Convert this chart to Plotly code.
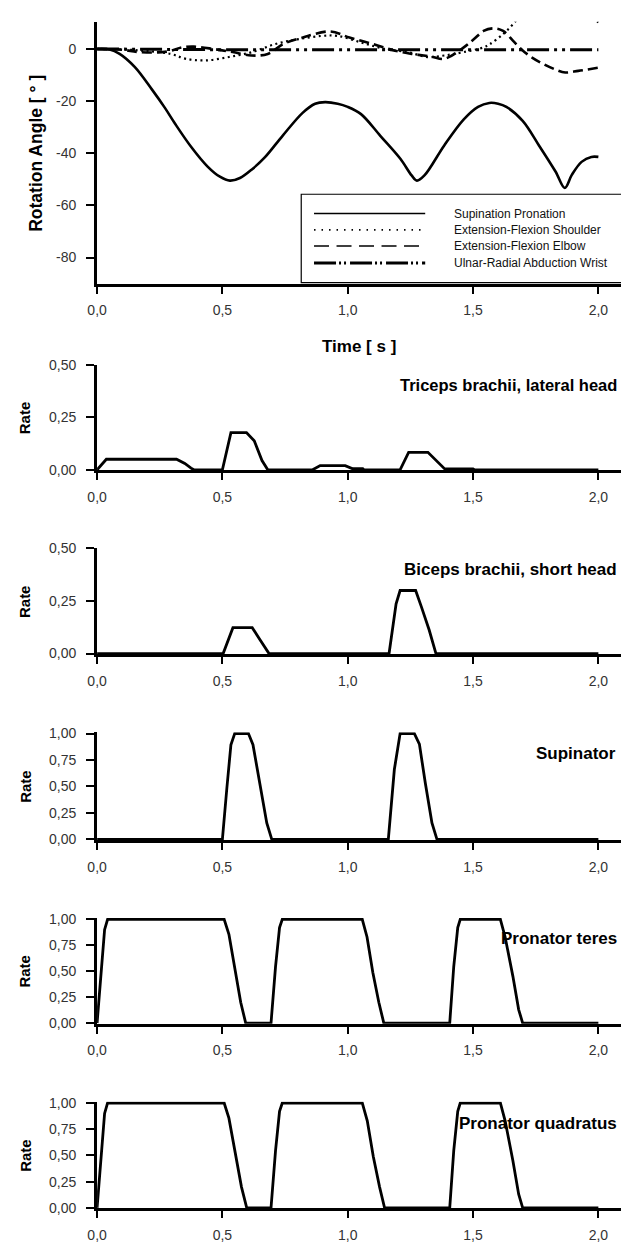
import plotly.graph_objects as go

W, H = 621, 1249

# ---------------- joint angles, top panel ----------------
t_sup = [0, 0.05, 0.09, 0.15, 0.22, 0.27, 0.31, 0.375, 0.44, 0.49, 0.53, 0.57, 0.62,
         0.67, 0.74, 0.82, 0.87, 0.91, 0.96, 1.0, 1.053, 1.13, 1.21, 1.255, 1.276,
         1.306, 1.385, 1.463, 1.52, 1.565, 1.60, 1.633, 1.698, 1.763, 1.829, 1.866,
         1.894, 1.933, 1.972, 2.0]
ang_sup = [0, -0.2, -1.9, -6.9, -15.7, -22.5, -28.5, -37.5, -45, -49, -50.5, -49.5, -46,
           -41.5, -33.3, -24.5, -21, -20.4, -21, -22.2, -25, -33.3, -42.1, -48.5, -50.5,
           -48.5, -37, -27, -22.2, -20.7, -21, -22.2, -27.6, -37, -47, -53.3,
           -48.3, -43.3, -41.4, -41.4]

t_sho = [0, 0.1, 0.2, 0.293, 0.355, 0.433, 0.526, 0.619, 0.712, 0.805, 0.898, 0.96,
         1.053, 1.147, 1.24, 1.318, 1.385, 1.463, 1.542, 1.568, 1.62, 1.659, 1.70,
         1.8, 1.9, 1.97, 2.0]
ang_sho = [0, -0.2, -0.8, -1.9, -3.8, -4.4, -3.1, -1.2, 1.9, 3.8, 5.0, 5.0,
           2.5, 0, -1.2, -3.1, -2.5, -1.2, 0.6, 1.9, 5.7, 9.4, 14,
           18, 15, 12, 10.2]

t_elb = [0, 0.1, 0.17, 0.28, 0.34, 0.386, 0.464, 0.541, 0.616, 0.681, 0.743, 0.821,
         0.93, 1.007, 1.1, 1.178, 1.255, 1.333, 1.385, 1.463, 1.504, 1.542, 1.583,
         1.62, 1.659, 1.698, 1.737, 1.777, 1.829, 1.868, 1.92, 2.0]
ang_elb = [0, -0.3, -1.2, -1.0, 0.6, 0.9, 0, -1.2, -2.5, -1.9, 1.9, 4.4,
           6.7, 4.4, 1.9, -0.4, -1.9, -2.9, -3.8, 0.6, 3.8, 6.9, 7.9,
           6.9, 3.2, -0.6, -3.4, -5.6, -7.9, -9.0, -8.4, -7.2]

t_wri = [0, 0.5, 1.0, 1.5, 2.0]
ang_wri = [0, -0.3, -0.3, -0.3, -0.3]

joint_names = ["Supination Pronation", "Extension-Flexion Shoulder",
               "Extension-Flexion Elbow", "Ulnar-Radial Abduction Wrist"]

# ---------------- muscle activation rates ----------------
t_tri = [0, 0.037, 0.317, 0.35, 0.375, 0.386, 0.5, 0.534, 0.596, 0.627, 0.658, 0.681,
         0.86, 0.89, 0.99, 1.02, 1.06, 1.065, 1.209, 1.243, 1.32, 1.387, 1.5, 1.505, 2.0]
r_tri = [0, 0.05, 0.05, 0.03, 0.008, 0, 0, 0.177, 0.177, 0.138, 0.044, 0,
         0, 0.02, 0.02, 0.005, 0.005, 0, 0, 0.083, 0.083, 0.004, 0.004, 0, 0]

t_bic = [0, 0.503, 0.542, 0.619, 0.65, 0.686, 1.165, 1.193, 1.209, 1.271, 1.294,
         1.325, 1.352, 2.0]
r_bic = [0, 0, 0.123, 0.123, 0.066, 0, 0, 0.237, 0.3, 0.3, 0.222, 0.112, 0, 0]

t_sun = [0, 0.5, 0.518, 0.534, 0.549, 0.604, 0.622, 0.65, 0.677, 0.697,
         1.162, 1.186, 1.209, 1.266, 1.286, 1.31, 1.336, 1.356, 2.0]
r_sun = [0, 0, 0.49, 0.895, 1, 1, 0.895, 0.525, 0.154, 0,
         0, 0.66, 1, 1, 0.9, 0.525, 0.154, 0, 0]

t_ter = [0, 0.03, 0.042, 0.507, 0.526, 0.549, 0.573, 0.593, 0.694, 0.712, 0.728, 0.739,
         1.058, 1.077, 1.1, 1.124, 1.144, 1.407, 1.423, 1.439, 1.449, 1.609, 1.628,
         1.659, 1.682, 1.698, 2.0]
r_ter = [0, 0.9, 1, 1, 0.855, 0.545, 0.2, 0, 0, 0.545, 0.92, 1,
         1, 0.83, 0.49, 0.2, 0, 0, 0.545, 0.92, 1, 1, 0.83,
         0.45, 0.13, 0, 0]

t_qua = [0, 0.03, 0.042, 0.507, 0.526, 0.551, 0.576, 0.597, 0.694, 0.712, 0.728, 0.739,
         1.058, 1.078, 1.102, 1.127, 1.147, 1.407, 1.423, 1.439, 1.449, 1.609, 1.628,
         1.659, 1.682, 1.698, 2.0]
r_qua = [0, 0.9, 1, 1, 0.855, 0.545, 0.2, 0, 0, 0.545, 0.92, 1,
         1, 0.83, 0.49, 0.2, 0, 0, 0.545, 0.92, 1, 1, 0.83,
         0.45, 0.13, 0, 0]

muscle_names = ["Triceps brachii, lateral head", "Biceps brachii, short head",
                "Supinator", "Pronator teres", "Pronator quadratus"]

# ---------------- ticks ----------------
x_ticks = [0, 0.5, 1.0, 1.5, 2.0]
angle_ticks = [0, -20, -40, -60, -80]
rate_ticks_half = [0, 0.25, 0.5]
rate_ticks_full = [0, 0.25, 0.5, 0.75, 1.0]


def comma(v, nd):
    return f"{v:.{nd}f}".replace(".", ",")


FONT = "Liberation Sans, Arial, sans-serif"
LEFT = 88.5              # left edge of every plotting area (px)
PX_PER_S = 254.75        # horizontal scale (px per second)


def fy(py):
    return 1 - py / H


def rate_range(top, bottom, zero_px, ref_px, ref_val):
    """Value range of a rate panel whose plotting area spans rows top..bottom."""
    unit = (zero_px - ref_px) / ref_val
    return [-(bottom - zero_px) / unit, (zero_px - top) / unit]


fig = go.Figure()

black = "#000000"
fig.add_trace(go.Scatter(x=t_sup, y=ang_sup, mode="lines", name=joint_names[0],
                         line=dict(color=black, width=2.6, shape="spline", smoothing=1.0)))
fig.add_trace(go.Scatter(x=t_sho, y=ang_sho, mode="lines", name=joint_names[1],
                         line=dict(color=black, width=2.2, dash="2px,3.5px",
                                   shape="spline", smoothing=1.0)))
fig.add_trace(go.Scatter(x=t_elb, y=ang_elb, mode="lines", name=joint_names[2],
                         line=dict(color=black, width=2.6, dash="10px,5px",
                                   shape="spline", smoothing=1.0)))
fig.add_trace(go.Scatter(x=t_wri, y=ang_wri, mode="lines", name=joint_names[3],
                         line=dict(color=black, width=3,
                                   dash="22px,5px,3px,5px,3px,5px")))

rates = [(t_tri, r_tri), (t_bic, r_bic), (t_sun, r_sun), (t_ter, r_ter), (t_qua, r_qua)]
for i, (tt, rr) in enumerate(rates):
    k = i + 2
    fig.add_trace(go.Scatter(x=tt, y=rr, mode="lines", name=muscle_names[i],
                             xaxis=f"x{k}", yaxis=f"y{k}",
                             line=dict(color=black, width=2.8)))

x_max = (W - LEFT) / PX_PER_S

# panel geometry: pixel rows of the plotting area and the value range shown
panels = [
    dict(top=14, bottom=279, rng=[-90, 10.4], ticks=angle_ticks,
         text=[f"{v:d}" for v in angle_ticks]),
    dict(top=361, bottom=468, rng=rate_range(361, 468, 467.4, 361, 0.5),
         ticks=rate_ticks_half, text=[comma(v, 2) for v in rate_ticks_half]),
    dict(top=547, bottom=654, rng=rate_range(547, 654, 653.4, 547, 0.5),
         ticks=rate_ticks_half, text=[comma(v, 2) for v in rate_ticks_half]),
    dict(top=733, bottom=842, rng=rate_range(733, 842, 841.4, 734.4, 1.0),
         ticks=rate_ticks_full, text=[comma(v, 2) for v in rate_ticks_full]),
    dict(top=921, bottom=1028, rng=rate_range(921, 1028, 1027.4, 922.4, 1.0),
         ticks=rate_ticks_full, text=[comma(v, 2) for v in rate_ticks_full]),
    dict(top=1107, bottom=1215, rng=rate_range(1107, 1215, 1214.4, 1108.3, 1.0),
         ticks=rate_ticks_full, text=[comma(v, 2) for v in rate_ticks_full]),
]

tick_font = dict(family=FONT, size=14, color="#333333")
layout_axes = {}
for i, p in enumerate(panels):
    k = "" if i == 0 else str(i + 1)
    layout_axes[f"xaxis{k}"] = dict(
        domain=[LEFT / W, 1], range=[0, x_max], anchor=f"y{k}",
        showgrid=False, zeroline=False, showline=True, linecolor="#000", linewidth=3,
        ticks="outside", ticklen=7, tickwidth=1.8, tickcolor="#000",
        tickvals=x_ticks, ticktext=[comma(v, 1) for v in x_ticks],
        tickfont=tick_font, ticklabelstandoff=5, fixedrange=True)
    layout_axes[f"yaxis{k}"] = dict(
        domain=[fy(p["bottom"]), fy(p["top"])], range=p["rng"], anchor=f"x{k}",
        showgrid=False, zeroline=False, showline=True, linecolor="#000", linewidth=3,
        ticks="outside", ticklen=8, tickwidth=1.5, tickcolor="#000",
        tickvals=p["ticks"], ticktext=p["text"],
        tickfont=tick_font, ticklabelstandoff=7, fixedrange=True)

annotations = []
# y-axis titles
annotations.append(dict(text="<b>Rotation Angle [ ° ]</b>", xref="paper", yref="paper",
                        x=27 / W, y=fy(147), textangle=-90,
                        xanchor="center", yanchor="middle", showarrow=False,
                        font=dict(family=FONT, size=17.5, color="#000")))
for p in panels[1:]:
    annotations.append(dict(text="<b>Rate</b>", xref="paper", yref="paper",
                            x=15 / W, y=fy((p["top"] + p["bottom"]) / 2), textangle=-90,
                            xanchor="center", yanchor="middle", showarrow=False,
                            font=dict(family=FONT, size=15, color="#000")))
# time axis title of the angle panel
annotations.append(dict(text="<b>Time [ s ]</b>", xref="x domain", yref="paper",
                        x=0.5, y=fy(343), xanchor="center", yanchor="middle",
                        showarrow=False, font=dict(family=FONT, size=17, color="#000")))
# muscle names inside each panel: (x, y, anchor, size)
x_edge = (619 - LEFT) / PX_PER_S
name_pos = [(x_edge, 0.403, "right", 16.5), (x_edge, 0.40, "right", 17),
            (1.745, 0.81, "left", 17), (x_edge, 0.815, "right", 17),
            (x_edge, 0.808, "right", 17)]
for i, (nx, ny, anc, sz) in enumerate(name_pos):
    k = i + 2
    annotations.append(dict(text=f"<b>{muscle_names[i]}</b>", xref=f"x{k}", yref=f"y{k}",
                            x=nx, y=ny, xanchor=anc, yanchor="middle",
                            showarrow=False, font=dict(family=FONT, size=sz, color="#000")))

# legend box of the angle panel
shapes = [dict(type="rect", xref="paper", yref="paper", x0=296 / W, x1=1.2,
               y0=fy(278), y1=fy(188.5), line=dict(color="#000", width=1.2),
               fillcolor="#ffffff", layer="above")]
leg_y = [208, 224.5, 241, 258]
leg_style = [dict(width=1.5), dict(width=1.8, dash="1.5px,6px"),
             dict(width=1.5, dash="15px,7.5px"),
             dict(width=3, dash="22px,3px,2px,3px,2px,4px")]
for yy, st, nm in zip(leg_y, leg_style, joint_names):
    shapes.append(dict(type="line", xref="paper", yref="paper", x0=309 / W, x1=422 / W,
                       y0=fy(yy), y1=fy(yy), line=dict(color="#000", **st), layer="above"))
    annotations.append(dict(text=nm, xref="paper", yref="paper", x=449 / W, y=fy(yy),
                            xanchor="left", yanchor="middle", showarrow=False,
                            font=dict(family=FONT, size=12, color="#111")))

fig.update_layout(
    width=W, height=H, autosize=False,
    margin=dict(l=0, r=0, t=0, b=0, pad=0),
    paper_bgcolor="white", plot_bgcolor="white",
    showlegend=False,
    annotations=annotations, shapes=shapes,
    **layout_axes,
)

fig.write_html("out.html", config=dict(displayModeBar=False))
